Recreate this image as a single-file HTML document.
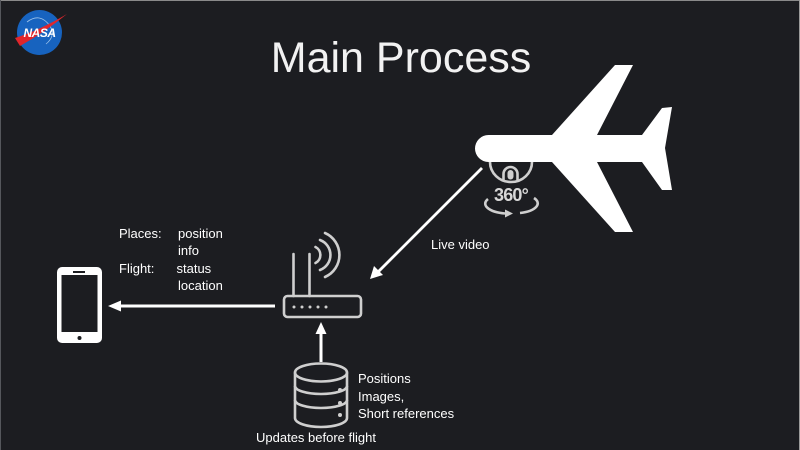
<!DOCTYPE html>
<html><head><meta charset="utf-8"><style>
html,body{margin:0;padding:0;background:#1c1d21;}
svg{display:block;}
text{font-family:"Liberation Sans",sans-serif;}
</style></head><body>
<svg width="800" height="450" viewBox="0 0 800 450" xmlns="http://www.w3.org/2000/svg">
<rect x="0" y="0" width="800" height="450" fill="#1c1d21"/>
<line x1="0" y1="0.5" x2="800" y2="0.5" stroke="#8a8a8a" stroke-width="1"/>
<line x1="799.5" y1="0" x2="799.5" y2="450" stroke="#9a9a9a" stroke-width="1"/>
<line x1="0.5" y1="0" x2="0.5" y2="450" stroke="#55575c" stroke-width="1"/>

<!-- NASA logo -->
<circle cx="39.5" cy="32.5" r="22.5" fill="#1763bf"/>
<path d="M27,22 Q40,12 50,26 Q56,36 46,44" fill="none" stroke="#9ec3ea" stroke-width="0.8"/>
<path d="M15,38 Q40,30 67,14 Q45,32 20,46 Z" fill="#e0262c"/>
<text x="39.5" y="37" font-size="12" font-weight="bold" font-style="italic" fill="#ffffff" text-anchor="middle" letter-spacing="-0.5">NASA</text>

<!-- Title -->
<text x="401" y="72" font-size="43" fill="#f2f2f2" text-anchor="middle">Main Process</text>

<!-- Airplane -->
<path d="M488.5,135 L552,135 L615,65 L633,65 L597,135 L642,135 L662,108 L672,107 L665,148 L672,190 L662,190 L642,162 L597,162 L633,232 L615,232 L552,162 L488.5,162 A13.5,13.5 0 0 1 488.5,135 Z" fill="#ffffff"/>

<!-- 360 icon -->
<g stroke="#cfcfcf" fill="none" stroke-width="2.6">
<path d="M490,162 A21,20 0 0 0 532,162"/>
<path d="M503.5,180 L503.5,174 A7,7 0 0 1 517.5,174 L517.5,180"/>
<path d="M488,199 A24,10 0 0 0 505,213.5"/>
<path d="M534,198 A24,10 0 0 1 520,213"/>
</g>
<rect x="507.5" y="170" width="6" height="9.5" rx="3" fill="#cfcfcf"/>
<path d="M505,209.5 L513,213.5 L505,217.5 Z" fill="#cfcfcf"/>
<text x="511" y="201" font-size="18" font-weight="bold" fill="#d8d8d8" text-anchor="middle" letter-spacing="-0.8">360°</text>

<!-- Live video arrow -->
<line x1="482" y1="168" x2="378" y2="272" stroke="#ffffff" stroke-width="2.8"/>
<path d="M370,279 L374,266 L383,275 Z" fill="#ffffff"/>
<text x="431" y="249" font-size="13" fill="#ffffff">Live video</text>

<!-- Router -->
<g stroke="#cfcfcf" fill="none" stroke-width="2.6" stroke-linecap="round">
<rect x="284" y="296" width="77" height="21" rx="3.5"/>
<line x1="293.5" y1="254" x2="293.5" y2="296"/>
<line x1="309.5" y1="254" x2="309.5" y2="296"/>
<path d="M315.5,247 A9,9 0 0 1 315.5,263"/>
<path d="M320,240 A16,16 0 0 1 320,270"/>
<path d="M325,233 A24,24 0 0 1 325,277"/>
</g>
<g fill="#cfcfcf">
<circle cx="294" cy="307" r="1.5"/><circle cx="302" cy="307" r="1.5"/><circle cx="310" cy="307" r="1.5"/><circle cx="318" cy="307" r="1.5"/><circle cx="326" cy="307" r="1.5"/>
</g>

<!-- Left arrow -->
<line x1="275" y1="306" x2="118" y2="306" stroke="#ffffff" stroke-width="3"/>
<path d="M108,306 L121,300.5 L121,311.5 Z" fill="#ffffff"/>

<!-- Phone -->
<rect x="57" y="267" width="45" height="76" rx="5" fill="#ffffff"/>
<rect x="61.5" y="275" width="36" height="57" fill="#1c1d21"/>
<rect x="73" y="271" width="12" height="2" fill="#1c1d21"/>
<circle cx="79.5" cy="338" r="2" fill="#1c1d21"/>

<!-- Phone labels -->
<g font-size="13" fill="#ffffff">
<text x="119" y="238">Places:</text>
<text x="178" y="238">position</text>
<text x="178" y="255">info</text>
<text x="119" y="273">Flight:</text>
<text x="176.5" y="273">status</text>
<text x="178" y="290">location</text>
</g>

<!-- Up arrow -->
<line x1="321" y1="362" x2="321" y2="333" stroke="#ffffff" stroke-width="3"/>
<path d="M321,322 L315.5,334 L326.5,334 Z" fill="#ffffff"/>

<!-- Database -->
<g stroke="#cfcfcf" fill="none" stroke-width="2.6">
<ellipse cx="321" cy="372.5" rx="26" ry="9"/>
<line x1="295" y1="372.5" x2="295" y2="418"/>
<line x1="347" y1="372.5" x2="347" y2="418"/>
<path d="M295,386 A26,8 0 0 0 347,386"/>
<path d="M295,400 A26,8 0 0 0 347,400"/>
<path d="M295,418 A26,9 0 0 0 347,418"/>
</g>
<g fill="#cfcfcf">
<circle cx="340" cy="390" r="2"/><circle cx="340" cy="403" r="2"/><circle cx="340" cy="415" r="2"/>
</g>

<!-- DB labels -->
<g font-size="13" fill="#ffffff">
<text x="358" y="383">Positions</text>
<text x="358" y="401">Images,</text>
<text x="358" y="418">Short references</text>
<text x="256" y="442">Updates before flight</text>
</g>
</svg>
</body></html>
